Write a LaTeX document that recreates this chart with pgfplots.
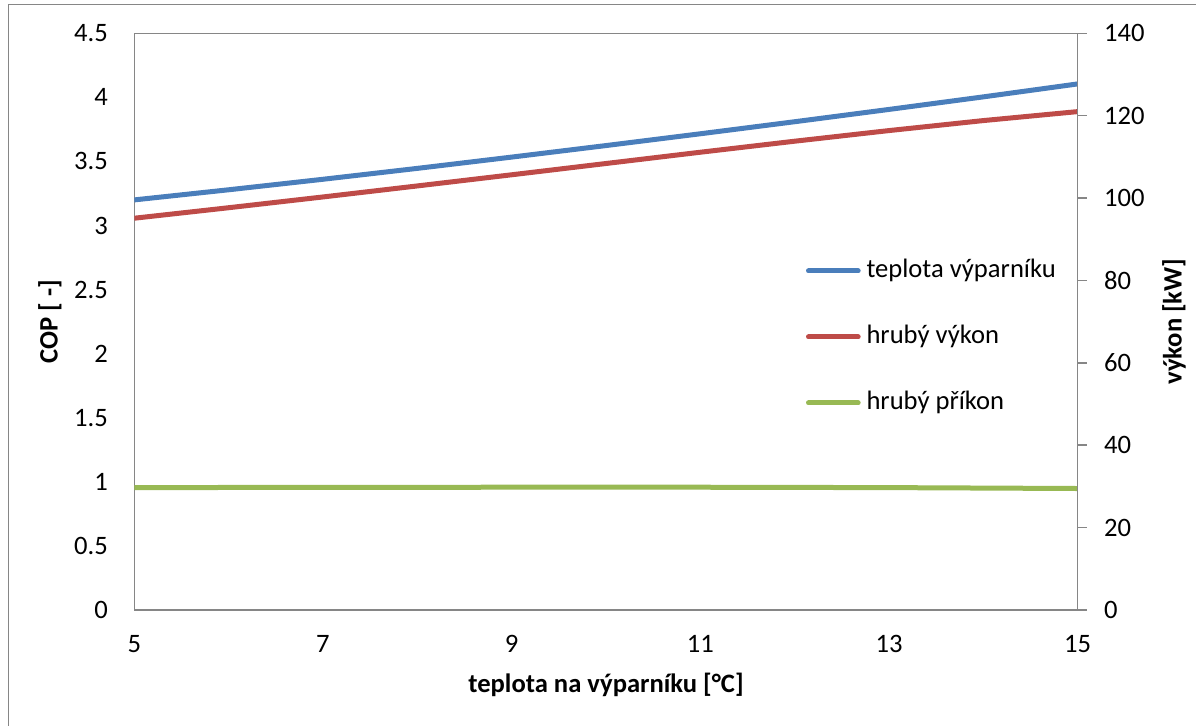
\documentclass[border=0pt]{standalone}
\usepackage{fontspec}
\setmainfont{Carlito}
\usepackage{pgfplots}
\pgfplotsset{compat=1.18}
\definecolor{cblue}{RGB}{74,126,187}
\definecolor{cred}{RGB}{190,75,72}
\definecolor{cgreen}{RGB}{152,185,84}
\definecolor{axgray}{RGB}{134,134,134}
\begin{document}
\fontsize{13.3}{16}\selectfont
\begin{tikzpicture}
\useasboundingbox (0,0) rectangle (598pt,362.5pt);
\draw[axgray, line width=0.75pt] (4.15pt,-10pt) -- (4.15pt,360.35pt) -- (610pt,360.35pt);
\begin{axis}[
  at={(67.15pt,57.5pt)}, anchor=south west,
  scale only axis, width=471.7pt, height=288.35pt,
  xmin=5, xmax=15, ymin=0, ymax=4.5,
  xtick={5,7,9,11,13,15},
  ytick={0,0.5,1,1.5,2,2.5,3,3.5,4,4.5},
  major tick length=0pt, tick style={draw=none},
  axis line style={axgray, line width=0.75pt},
  /pgf/number format/assume math mode=true,
  yticklabel style={inner sep=0pt, anchor=east, xshift=-13pt},
  xticklabel style={inner sep=0pt, anchor=north, yshift=-12.5pt},
  xlabel={\bfseries teplota na výparníku [°C]},
  ylabel={\bfseries COP [ -]},
  xlabel style={at={(axis description cs:0.5,0)}, anchor=center, yshift=-37.5pt, inner sep=0pt},
  ylabel style={at={(axis description cs:-0.0894,0.5)}, anchor=center, inner sep=0pt},
  legend style={draw=none, fill=none, at={(rel axis cs:0.712,0.4734)}, anchor=west,
    inner sep=0pt, outer sep=0pt, row sep=20.8pt,
    nodes={inner sep=0pt, text height=9.4pt, text depth=2.8pt}},
  legend cell align=left,
  legend image code/.code={\draw[#1, line cap=round] (1.25pt,0pt) -- (26.1pt,0pt); \path (29pt,0pt);},
]
\addplot[cblue, line width=2.5pt, line join=round] coordinates {
 (5,3.200) (6,3.279) (7,3.361) (8,3.446) (9,3.534) (10,3.624) (11,3.716) (12,3.810) (13,3.906) (14,4.004) (15,4.105)};
\addlegendentry{teplota výparníku}
\addplot[cred, line width=2.5pt, line join=round] coordinates {
 (5,3.057) (6,3.139) (7,3.223) (8,3.309) (9,3.396) (10,3.484) (11,3.572) (12,3.658) (13,3.741) (14,3.819) (15,3.889)};
\addlegendentry{hrubý výkon}
\addplot[cgreen, line width=2.5pt, line join=round] coordinates {
 (5,0.955) (7,0.957) (9,0.958) (11,0.958) (13,0.955) (15,0.948)};
\addlegendentry{hrubý příkon}
\end{axis}
\begin{axis}[
  at={(67.15pt,57.5pt)}, anchor=south west,
  scale only axis, width=471.7pt, height=288.35pt,
  xmin=5, xmax=15, ymin=0, ymax=140,
  ytick={0,20,40,60,80,100,120,140},
  axis y line*=right, axis x line=none,
  tick align=outside, major tick length=4.5pt,
  tick style={axgray, line width=0.75pt},
  axis line style={axgray, line width=0.75pt},
  /pgf/number format/assume math mode=true,
  yticklabel style={inner sep=0pt, anchor=west, xshift=8.5pt},
  ylabel={\bfseries výkon [kW]},
  ylabel style={at={(axis description cs:1.1021,0.5)}, anchor=center, inner sep=0pt},
]
\end{axis}
\end{tikzpicture}
\end{document}
